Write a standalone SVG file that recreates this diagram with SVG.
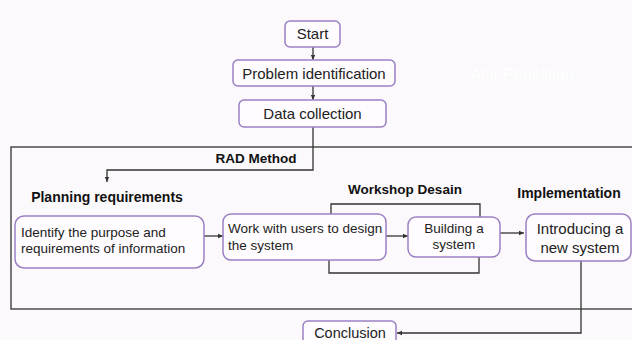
<svg xmlns="http://www.w3.org/2000/svg" width="632" height="340" viewBox="0 0 632 340">
<defs>
<style>
.bg{fill:#fcf9fc}
.box{fill:#fefcfe;stroke:#9a80c2;stroke-width:1.5}
.t{font-family:"Liberation Sans",Arial,sans-serif;fill:#222}
.t15{font-size:15px}
.t13{font-size:13.5px}
.h{font-family:"Liberation Sans",Arial,sans-serif;font-weight:bold;fill:#111}
.c{text-anchor:middle}
.ln{fill:none;stroke:#333;stroke-width:1.3}
</style>
<marker id="ar" markerWidth="6" markerHeight="6" refX="5" refY="3" orient="auto" markerUnits="userSpaceOnUse">
<path d="M0,0.8 L5,3 L0,5.2 Z" fill="#333"/>
</marker>
</defs>
<rect class="bg" x="0" y="0" width="632" height="340"/>
<text x="522" y="80" font-family="Liberation Sans,Arial,sans-serif" font-size="16" fill="#ffffff" text-anchor="middle">Alur  Penelitian</text>
<rect id="rad-frame" x="11" y="147" width="630" height="162" fill="none" stroke="#333" stroke-width="1.3"/>
<text class="h c" x="256" y="163" style="font-size:13.5px">RAD Method</text>
<text class="h c" x="107" y="202" style="font-size:14px">Planning requirements</text>
<text class="h c" x="405" y="194" style="font-size:13.5px">Workshop Desain</text>
<text class="h c" x="569" y="198" style="font-size:14px">Implementation</text>
<g id="connectors">
<path class="ln" d="M313,47 V60" marker-end="url(#ar)"/>
<path class="ln" d="M313,86 V100" marker-end="url(#ar)"/>
<path class="ln" d="M313,127 V170 H107 V182" marker-end="url(#ar)"/>
<path class="ln" d="M204,236 H223" marker-end="url(#ar)"/>
<path class="ln" d="M386,236 H408" marker-end="url(#ar)"/>
<path class="ln" d="M500,233 H524" marker-end="url(#ar)"/>
<path class="ln" d="M331,214 V204 H480 V217"/>
<path class="ln" d="M329,260 V273 H479 V257"/>
<path class="ln" d="M581,261 V333 H397" marker-end="url(#ar)"/>
</g>
<g id="start">
<rect class="box" x="285" y="21" width="55" height="26" rx="5"/>
<text class="t t15 c" x="312.5" y="39">Start</text>
</g>
<g id="problem">
<rect class="box" x="233" y="60" width="162" height="26" rx="5"/>
<text class="t t15 c" x="314" y="78.5">Problem identification</text>
</g>
<g id="data">
<rect class="box" x="239" y="100" width="147" height="27" rx="5"/>
<text class="t t15 c" x="312.5" y="118.5">Data collection</text>
</g>
<g id="identify">
<rect class="box" x="15" y="216" width="189" height="52" rx="9"/>
<text class="t t13" x="21" y="237">Identify the purpose and</text>
<text class="t t13" x="21" y="253">requirements of information</text>
</g>
<g id="work">
<rect class="box" x="223" y="214" width="163" height="46" rx="8"/>
<text class="t t13" x="228" y="233">Work with users to design</text>
<text class="t t13" x="228" y="250">the system</text>
</g>
<g id="building">
<rect class="box" x="408" y="217" width="92" height="40" rx="8"/>
<text class="t t13 c" x="454" y="233">Building a</text>
<text class="t t13 c" x="454" y="249">system</text>
</g>
<g id="implementation">
<rect class="box" x="526" y="214" width="105" height="47" rx="9"/>
<text class="t t15 c" x="580" y="234">Introducing a</text>
<text class="t t15 c" x="580" y="253">new system</text>
</g>
<g id="conclusion">
<rect class="box" x="303" y="321" width="93" height="26" rx="5"/>
<text class="t c" x="350" y="338" style="font-size:14.5px">Conclusion</text>
</g>
</svg>
